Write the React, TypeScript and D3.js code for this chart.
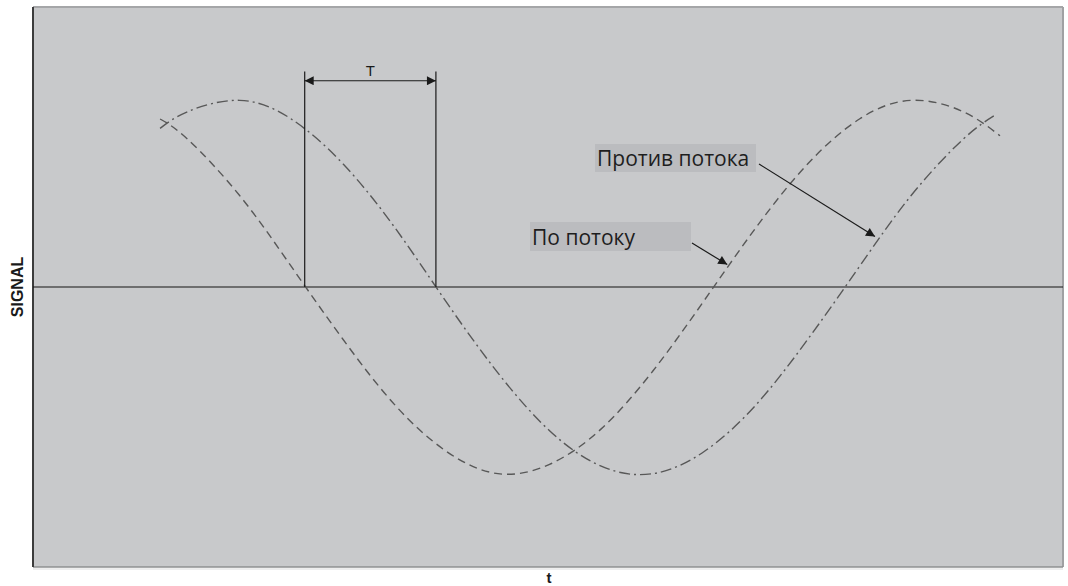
import { useEffect, useRef } from 'react';
import * as d3 from 'd3';

// time axis (arbitrary units) and signal values
const tDown = [1.23, 1.5, 2.0, 2.5, 3.0, 3.5, 4.0, 4.5, 5.0, 5.5, 6.0, 6.5, 7.0, 7.5, 8.0, 8.5, 9.0, 9.36];
const downstream = [0.9, 0.79, 0.49, 0.11, -0.28, -0.63, -0.88, -1.0, -0.95, -0.76, -0.45, -0.07, 0.32, 0.66, 0.9, 1.0, 0.94, 0.81];

const tUp = [1.23, 1.5, 2.0, 2.5, 3.0, 3.5, 4.0, 4.5, 5.0, 5.5, 6.0, 6.5, 7.0, 7.5, 8.0, 8.5, 9.0, 9.31];
const upstream = [0.85, 0.94, 1.0, 0.9, 0.66, 0.32, -0.08, -0.46, -0.77, -0.96, -1.0, -0.88, -0.63, -0.28, 0.11, 0.49, 0.79, 0.92];

// T marker: zero crossings of the two signals
const tMarks = [2.63, 3.9];

const labels = ['По потоку', 'Против потока'];
const labelTips = [[6.72, 0.12], [8.15, 0.27]];

const App = () => {
  const svgRef = useRef(null);

  useEffect(() => {
    const width = 1068, height = 586;
    const left = 33, right = 1063, top = 7, bottom = 567;

    const svg = d3.select(svgRef.current);
    svg.selectAll('*').remove();
    svg.attr('width', width).attr('height', height);

    const x = d3.scaleLinear().domain([0, 9.97]).range([left, right]);
    const y = d3.scaleLinear().domain([-1.5, 1.5]).range([bottom, top]);

    const defs = svg.append('defs');
    defs.append('marker')
      .attr('id', 'arr')
      .attr('viewBox', '0 0 10 10')
      .attr('refX', 10).attr('refY', 5)
      .attr('markerWidth', 12).attr('markerHeight', 9)
      .attr('markerUnits', 'userSpaceOnUse')
      .attr('orient', 'auto-start-reverse')
      .append('path')
      .attr('d', 'M0,0 L10,5 L0,10 Z')
      .attr('fill', '#1a1a1a');

    // plot background + frame
    svg.append('rect')
      .attr('x', left).attr('y', top)
      .attr('width', right - left).attr('height', bottom - top)
      .attr('fill', '#c8c9cb');
    svg.append('line').attr('x1', left).attr('x2', right).attr('y1', top).attr('y2', top)
      .attr('stroke', '#a5a6a8').attr('stroke-width', 2);
    svg.append('line').attr('x1', right).attr('x2', right).attr('y1', top).attr('y2', bottom)
      .attr('stroke', '#a0a1a3').attr('stroke-width', 2);
    svg.append('line').attr('x1', left).attr('x2', right).attr('y1', bottom).attr('y2', bottom)
      .attr('stroke', '#8e8f91').attr('stroke-width', 1.5);
    svg.append('line').attr('x1', left).attr('x2', right).attr('y1', bottom + 2).attr('y2', bottom + 2)
      .attr('stroke', '#dcdcdd').attr('stroke-width', 1);
    svg.append('line').attr('x1', left).attr('x2', left).attr('y1', top).attr('y2', bottom)
      .attr('stroke', '#3c3c3c').attr('stroke-width', 2);

    // zero line
    svg.append('line')
      .attr('x1', left).attr('x2', right)
      .attr('y1', y(0)).attr('y2', y(0))
      .attr('stroke', '#151515').attr('stroke-width', 1.2);

    const line = d3.line().curve(d3.curveNatural);

    svg.append('path')
      .attr('d', line(tDown.map((t, i) => [x(t), y(downstream[i])])))
      .attr('fill', 'none')
      .attr('stroke', '#585858')
      .attr('stroke-width', 1.4)
      .attr('stroke-dasharray', '8,5');

    svg.append('path')
      .attr('d', line(tUp.map((t, i) => [x(t), y(upstream[i])])))
      .attr('fill', 'none')
      .attr('stroke', '#585858')
      .attr('stroke-width', 1.4)
      .attr('stroke-dasharray', '11,4,2,4');

    // T bracket
    tMarks.forEach(t => {
      svg.append('line')
        .attr('x1', x(t)).attr('x2', x(t))
        .attr('y1', y(1.155)).attr('y2', y(0))
        .attr('stroke', '#1a1a1a').attr('stroke-width', 1.2);
    });
    svg.append('line')
      .attr('x1', x(tMarks[0])).attr('x2', x(tMarks[1]))
      .attr('y1', y(1.105)).attr('y2', y(1.105))
      .attr('stroke', '#1a1a1a').attr('stroke-width', 1.2)
      .attr('marker-start', 'url(#arr)')
      .attr('marker-end', 'url(#arr)');
    svg.append('text')
      .attr('x', (x(tMarks[0]) + x(tMarks[1])) / 2)
      .attr('y', y(1.105) - 5)
      .attr('text-anchor', 'middle')
      .attr('font-family', 'Liberation Sans, Arial, sans-serif')
      .attr('font-size', 15)
      .attr('fill', '#1a1a1a')
      .text('T');

    // labels with arrows
    const boxes = [
      { bx: 530, by: 222, bw: 161, bh: 29, ax: 692, ay: 243 },
      { bx: 595, by: 144, bw: 161, bh: 28, ax: 759, ay: 164 },
    ];
    labels.forEach((lab, i) => {
      const b = boxes[i];
      svg.append('rect')
        .attr('x', b.bx).attr('y', b.by)
        .attr('width', b.bw).attr('height', b.bh)
        .attr('fill', '#bbbcbf');
      svg.append('text')
        .attr('x', b.bx + 2).attr('y', b.by + b.bh - 6)
        .attr('font-family', 'Open Sans, Noto Sans, sans-serif')
        .attr('font-size', 21)
        .attr('fill', '#1e1e1e')
        .text(lab);
      svg.append('line')
        .attr('x1', b.ax).attr('y1', b.ay)
        .attr('x2', x(labelTips[i][0])).attr('y2', y(labelTips[i][1]))
        .attr('stroke', '#1a1a1a').attr('stroke-width', 1.2)
        .attr('marker-end', 'url(#arr)');
    });

    // axis titles
    svg.append('text')
      .attr('transform', `translate(23,${y(0)}) rotate(-90)`)
      .attr('text-anchor', 'middle')
      .attr('font-family', 'Liberation Sans, Arial, sans-serif')
      .attr('font-weight', 'bold')
      .attr('font-size', 16)
      .attr('fill', '#1a1a1a')
      .text('SIGNAL');
    svg.append('text')
      .attr('x', (left + right) / 2 + 1)
      .attr('y', 583)
      .attr('text-anchor', 'middle')
      .attr('font-family', 'Liberation Sans, Arial, sans-serif')
      .attr('font-weight', 'bold')
      .attr('font-size', 15)
      .attr('fill', '#1a1a1a')
      .text('t');
  }, []);

  return (
    <div style={{ position: 'absolute', left: 0, top: 0 }}>
      <svg ref={svgRef} style={{ display: 'block' }}></svg>
    </div>
  );
};

export default App;
